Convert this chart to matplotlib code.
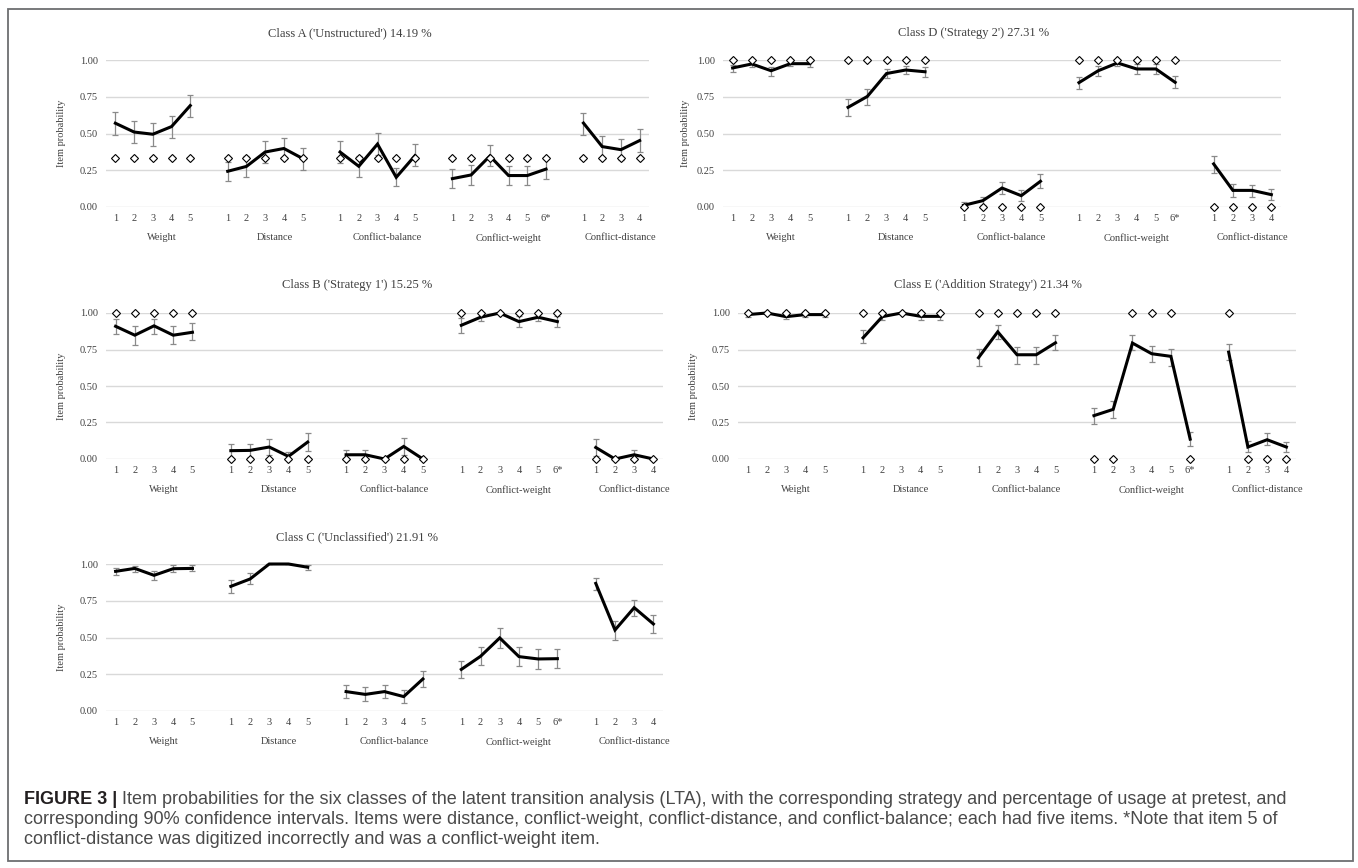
import matplotlib
matplotlib.use("Agg")
import matplotlib.pyplot as plt
from matplotlib.patches import Rectangle
import numpy as np

# ---------------- data ----------------
groups = ["Weight", "Distance", "Conflict-balance", "Conflict-weight", "Conflict-distance"]
group_items = [["1", "2", "3", "4", "5"],
               ["1", "2", "3", "4", "5"],
               ["1", "2", "3", "4", "5"],
               ["1", "2", "3", "4", "5", "6*"],
               ["1", "2", "3", "4"]]

# Class A ('Unstructured')
A_prob = [0.570, 0.510, 0.495, 0.547, 0.690,
          0.243, 0.276, 0.374, 0.398, 0.330,
          0.374, 0.277, 0.428, 0.202, 0.349,
          0.193, 0.218, 0.347, 0.214, 0.214, 0.258,
          0.571, 0.411, 0.390, 0.452]
A_lo = [0.490, 0.432, 0.414, 0.470, 0.615,
        0.179, 0.207, 0.300, 0.327, 0.252,
        0.300, 0.205, 0.354, 0.141, 0.280,
        0.130, 0.150, 0.279, 0.150, 0.150, 0.190,
        0.492, 0.331, 0.320, 0.376]
A_hi = [0.643, 0.588, 0.570, 0.620, 0.760,
        0.307, 0.345, 0.447, 0.472, 0.400,
        0.447, 0.345, 0.506, 0.263, 0.428,
        0.259, 0.286, 0.420, 0.281, 0.281, 0.329,
        0.641, 0.483, 0.463, 0.531]
A_expected = [0.333] * 25

# Class D ('Strategy 2')
D_prob = [0.946, 0.973, 0.927, 0.975, 0.975,
          0.678, 0.752, 0.908, 0.932, 0.920,
          0.011, 0.043, 0.129, 0.077, 0.175,
          0.846, 0.927, 0.980, 0.939, 0.939, 0.848,
          0.293, 0.113, 0.113, 0.084]
D_lo = [0.921, 0.955, 0.893, 0.958, 0.955,
        0.617, 0.694, 0.875, 0.902, 0.884,
        0.000, 0.014, 0.088, 0.043, 0.129,
        0.803, 0.893, 0.960, 0.905, 0.905, 0.807,
        0.231, 0.068, 0.068, 0.048]
D_hi = [0.968, 0.990, 0.955, 0.990, 0.993,
        0.737, 0.805, 0.937, 0.961, 0.950,
        0.032, 0.068, 0.168, 0.113, 0.222,
        0.887, 0.957, 0.995, 0.973, 0.973, 0.893,
        0.349, 0.156, 0.150, 0.120]
D_expected = [1, 1, 1, 1, 1,
              1, 1, 1, 1, 1,
              0, 0, 0, 0, 0,
              1, 1, 1, 1, 1, 1,
              0, 0, 0, 0]

# Class B ('Strategy 1')
B_prob = [0.909, 0.848, 0.912, 0.848, 0.868,
          0.057, 0.059, 0.082, 0.018, 0.116,
          0.029, 0.029, 0.000, 0.086, 0.000,
          0.916, 0.971, 1.000, 0.941, 0.971, 0.941,
          0.079, 0.000, 0.029, 0.000]
B_lo = [0.857, 0.782, 0.859, 0.787, 0.814,
        0.007, 0.011, 0.027, 0.000, 0.052,
        0.000, 0.000, 0.000, 0.027, 0.000,
        0.866, 0.948, 1.000, 0.902, 0.948, 0.902,
        0.018, 0.000, 0.000, 0.000]
B_hi = [0.959, 0.912, 0.959, 0.912, 0.932,
        0.100, 0.100, 0.136, 0.045, 0.177,
        0.059, 0.059, 0.000, 0.143, 0.000,
        0.966, 0.993, 1.000, 0.982, 0.993, 0.982,
        0.136, 0.000, 0.059, 0.000]
B_expected = [1, 1, 1, 1, 1,
              0, 0, 0, 0, 0,
              0, 0, 0, 0, 0,
              1, 1, 1, 1, 1, 1,
              0, 0, 0, 0]

# Class E ('Addition Strategy')
E_prob = [0.989, 1.000, 0.975, 0.989, 0.989,
          0.830, 0.975, 1.000, 0.977, 0.977,
          0.694, 0.871, 0.714, 0.714, 0.796,
          0.297, 0.340, 0.794, 0.721, 0.703, 0.136,
          0.732, 0.082, 0.132, 0.082]
E_lo = [0.975, 1.000, 0.957, 0.975, 0.975,
        0.794, 0.955, 1.000, 0.955, 0.955,
        0.639, 0.823, 0.653, 0.653, 0.744,
        0.240, 0.279, 0.744, 0.664, 0.639, 0.091,
        0.676, 0.045, 0.093, 0.045]
E_hi = [1.000, 1.000, 0.993, 1.000, 1.000,
        0.882, 0.993, 1.000, 0.995, 0.995,
        0.755, 0.918, 0.769, 0.769, 0.846,
        0.351, 0.399, 0.846, 0.771, 0.755, 0.188,
        0.789, 0.120, 0.177, 0.116]
E_expected = [1, 1, 1, 1, 1,
              1, 1, 1, 1, 1,
              1, 1, 1, 1, 1,
              0, 0, 1, 1, 1, 0,
              1, 0, 0, 0]

# Class C ('Unclassified')
C_prob = [0.950, 0.970, 0.923, 0.968, 0.970,
          0.848, 0.898, 1.000, 1.000, 0.978,
          0.132, 0.113, 0.132, 0.098, 0.218,
          0.283, 0.372, 0.497, 0.370, 0.354, 0.356,
          0.868, 0.551, 0.703, 0.592]
C_lo = [0.923, 0.948, 0.889, 0.945, 0.950,
        0.802, 0.864, 1.000, 1.000, 0.962,
        0.091, 0.068, 0.088, 0.057, 0.161,
        0.224, 0.311, 0.429, 0.306, 0.288, 0.293,
        0.823, 0.485, 0.649, 0.531]
C_hi = [0.975, 0.989, 0.955, 0.991, 0.991,
        0.893, 0.939, 1.000, 1.000, 0.992,
        0.177, 0.166, 0.177, 0.143, 0.270,
        0.342, 0.438, 0.562, 0.435, 0.420, 0.420,
        0.907, 0.612, 0.755, 0.653]
C_expected = None

titles = {"A": "Class A ('Unstructured') 14.19 %",
          "B": "Class B ('Strategy 1') 15.25 %",
          "C": "Class C ('Unclassified') 21.91 %",
          "D": "Class D ('Strategy 2') 27.31 %",
          "E": "Class E ('Addition Strategy') 21.34 %"}

y_ticks = [0.00, 0.25, 0.50, 0.75, 1.00]

caption_bold = "FIGURE 3 | "
caption_lines = [
    "Item probabilities for the six classes of the latent transition analysis (LTA), with the corresponding strategy and percentage of usage at pretest, and",
    "corresponding 90% confidence intervals. Items were distance, conflict-weight, conflict-distance, and conflict-balance; each had five items. *Note that item 5 of",
    "conflict-distance was digitized incorrectly and was a conflict-weight item.",
]

# ---------------- layout ----------------
W, H = 1358, 868
fig = plt.figure(figsize=(W / 100, H / 100), dpi=100)
fig.patch.set_facecolor("white")

SERIF = ["Liberation Serif", "DejaVu Serif"]
TXT = "#404040"

# category positions: each group followed by one empty slot
positions = []
group_centers = []
start = 0
for items in group_items:
    pos = list(range(start, start + len(items)))
    positions.append(pos)
    group_centers.append(start + len(items) / 2.0)
    start += len(items) + 1


def px_rect(l, t, r, b):
    return [l / W, 1 - b / H, (r - l) / W, (b - t) / H]


def panel(rect, prob, lo, hi, expected, title, title_xy, ylabel_x):
    ax = fig.add_axes(px_rect(*rect))
    ax.set_xlim(-0.5, 28.5)
    ax.set_ylim(0, 1)
    ax.set_yticks(y_ticks)
    ax.set_yticklabels([f"{v:.2f}" for v in y_ticks], fontfamily=SERIF,
                       fontsize=7.5, color=TXT)
    ax.grid(axis="y", color="#d9d9d9", lw=1.0)
    ax.set_axisbelow(True)
    for s in ax.spines.values():
        s.set_visible(False)
    flat_pos = [p for grp in positions for p in grp]
    flat_lab = [l for grp in group_items for l in grp]
    ax.set_xticks(flat_pos)
    ax.set_xticklabels(flat_lab, fontfamily=SERIF, fontsize=7.5, color=TXT)
    ax.tick_params(axis="both", length=0)
    ax.tick_params(axis="x", pad=5.0)
    ax.tick_params(axis="y", pad=6.0)

    prob = np.array(prob)
    lo = np.array(lo)
    hi = np.array(hi)
    i0 = 0
    for grp in positions:
        n = len(grp)
        sl = slice(i0, i0 + n)
        p = prob[sl]
        ax.errorbar(grp, p, yerr=[p - lo[sl], hi[sl] - p], fmt="none",
                    ecolor="#8a8a8a", elinewidth=0.9, capsize=2.4,
                    capthick=0.9, zorder=3, clip_on=False)
        ax.plot(grp, p, color="black", lw=2.2, zorder=4, clip_on=False,
                solid_joinstyle="miter")
        if expected is not None:
            ax.plot(grp, expected[i0:i0 + n], ls="none", marker="D",
                    markersize=4.0, mfc="white", mec="black", mew=0.8,
                    zorder=5, clip_on=False)
        i0 += n

    for name, cx in zip(groups, group_centers):
        ax.annotate(name, xy=(cx, 0), xycoords=("data", "axes fraction"),
                    xytext=(0, -31 * 0.72), textcoords="offset points",
                    ha="center", va="center", fontfamily=SERIF, fontsize=7.5,
                    color=TXT, annotation_clip=False)

    fig.text(title_xy[0] / W, 1 - title_xy[1] / H, title, ha="center",
             va="center", fontfamily=SERIF, fontsize=9, color=TXT)
    fig.text(ylabel_x / W, 1 - (rect[1] + rect[3]) / 2 / H, "Item probability",
             rotation=90, ha="center", va="center", fontfamily=SERIF,
             fontsize=7.5, color=TXT)
    return ax


panel((106, 60, 649, 207), A_prob, A_lo, A_hi, A_expected, titles["A"], (350, 33), 62)
panel((723, 60, 1281, 207), D_prob, D_lo, D_hi, D_expected, titles["D"], (974, 33), 685)
panel((106, 313, 663, 459), B_prob, B_lo, B_hi, B_expected, titles["B"], (357, 285), 62)
panel((738, 313, 1296, 459), E_prob, E_lo, E_hi, E_expected, titles["E"], (988, 285), 693)
panel((106, 564, 663, 711), C_prob, C_lo, C_hi, C_expected, titles["C"], (357, 537), 62)

# ---------------- frame & caption ----------------
ov = fig.add_axes([0, 0, 1, 1], zorder=-1)
ov.set_xlim(0, W)
ov.set_ylim(H, 0)
ov.axis("off")
ov.add_patch(Rectangle((8, 9), 1345, 852, fill=False, ec="#6d6e71", lw=1.3))

SANS = ["Liberation Sans", "DejaVu Sans"]
cap_fs = 13.0
cap_x = 24
cap_y = [800, 820, 839]
tb = ov.text(cap_x, cap_y[0], caption_bold, fontfamily=SANS, fontweight="bold",
             fontsize=cap_fs, color="#231f20", ha="left", va="center")
fig.canvas.draw()
r = fig.canvas.get_renderer()
bw = tb.get_window_extent(r).width
ov.text(cap_x + bw, cap_y[0], caption_lines[0], fontfamily=SANS,
        fontsize=cap_fs, color="#4a4a4a", ha="left", va="center")
for yy, line in zip(cap_y[1:], caption_lines[1:]):
    ov.text(cap_x, yy, line, fontfamily=SANS, fontsize=cap_fs,
            color="#4a4a4a", ha="left", va="center")

fig.savefig("out.png", dpi=100)
